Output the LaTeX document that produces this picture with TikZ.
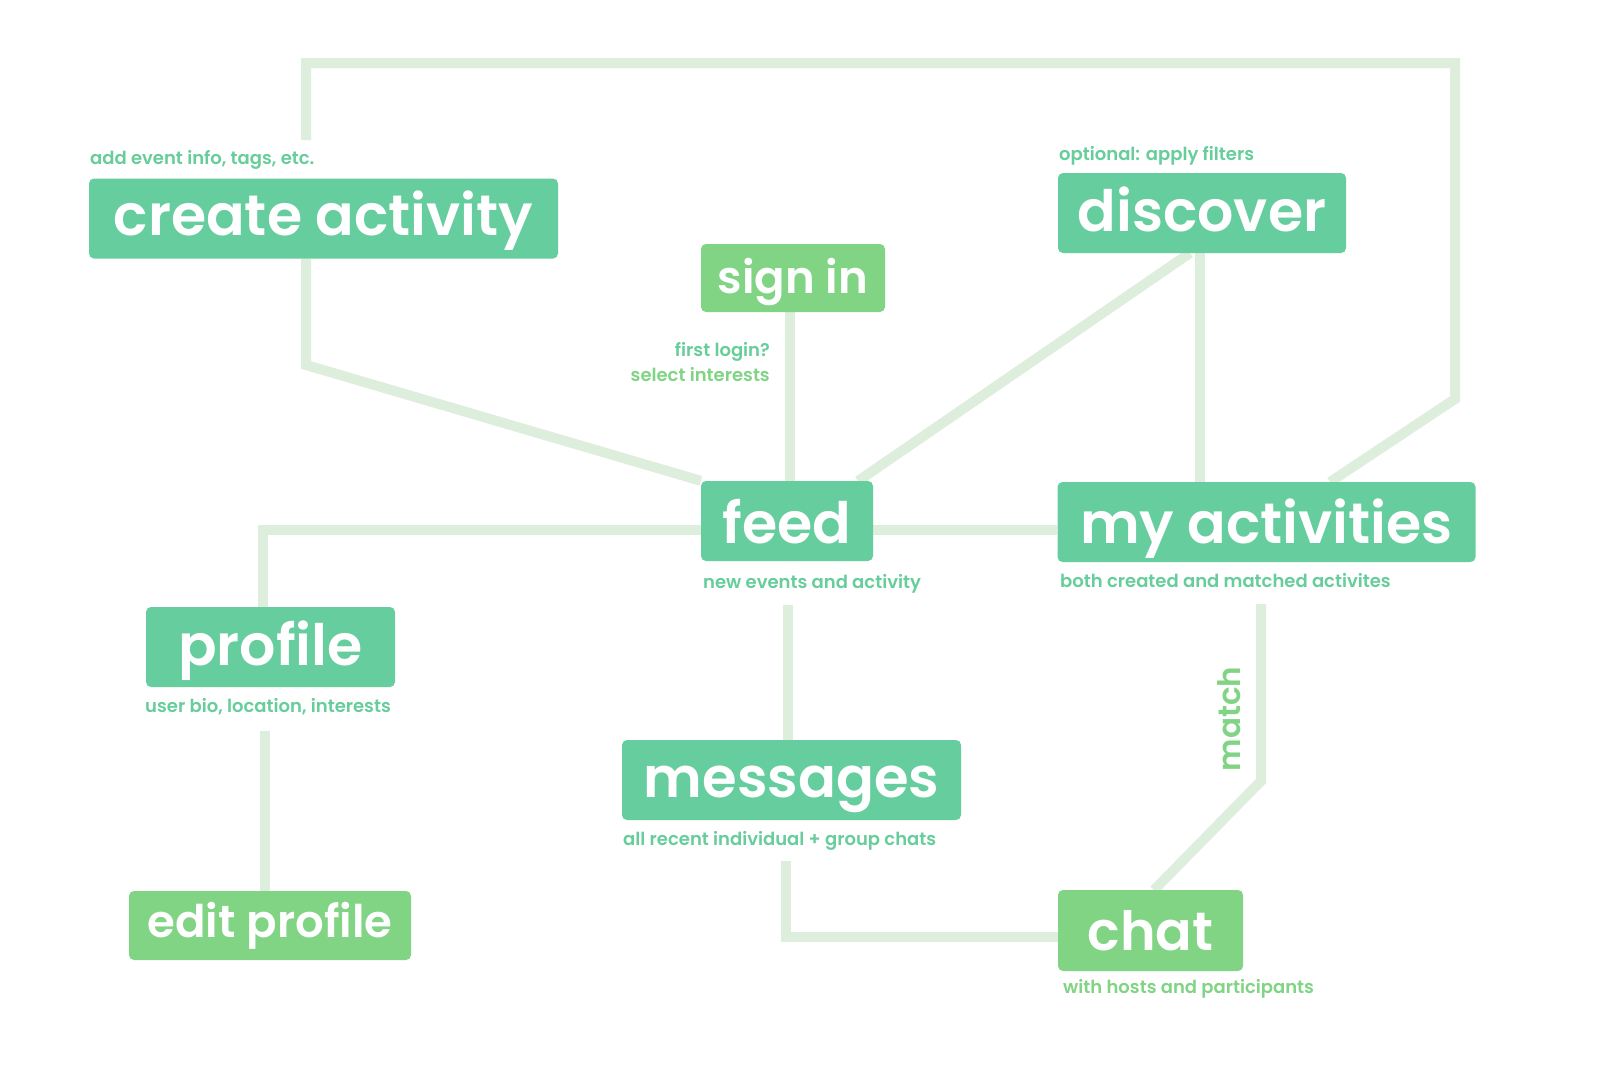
\documentclass[tikz,border=0pt]{standalone}
\usepackage{fontspec}
\setmainfont{Poppins}
\newfontfamily\capfont{Poppins}[UprightFont=* SemiBold]
\usetikzlibrary{backgrounds}
\definecolor{tealbox}{RGB}{102,205,158}
\definecolor{leafbox}{RGB}{128,212,132}
\definecolor{linkline}{RGB}{221,238,221}
\definecolor{tealtext}{RGB}{102,205,155}
\definecolor{leaftext}{RGB}{128,212,132}
\begin{document}
\begin{tikzpicture}[x=1pt,y=-1pt,
  box/.style={rectangle, rounded corners=5pt, fill=tealbox, text=white, inner sep=0pt},
  leaf/.style={box, fill=leafbox},
  big/.style={font=\capfont\fontsize{57}{60}\selectfont},
  note/.style={inner sep=0pt, text=tealtext, font=\capfont\fontsize{18}{20}\selectfont},
  leafnote/.style={note, text=leaftext},
  link/.style={draw=linkline, line width=10pt, line join=miter, line cap=butt}]
\useasboundingbox (0,0) rectangle (1601,1068);

% main screens
\node[box, big, minimum width=469pt, minimum height=80pt, text height=46.5pt, text depth=13.5pt] (create) at (323.5,218.5) {create activity};
\node[box, big, minimum width=288pt, minimum height=80pt, text height=48pt, text depth=12pt] (discover) at (1202,213) {discover};
\node[leaf, font=\capfont\fontsize{45}{50}\selectfont, minimum width=184pt, minimum height=68pt, text height=45pt, text depth=15pt] (signin) at (793,278) {sign in};
\node[box, big, minimum width=172pt, minimum height=80pt, text height=52pt, text depth=8pt] (feed) at (787,521) {feed};
\node[box, big, minimum width=418pt, minimum height=80pt, text height=51pt, text depth=9pt] (myact) at (1266.5,522) {my activities};
\node[box, big, minimum width=249pt, minimum height=80pt, text height=48pt, text depth=12pt] (profile) at (270.5,647) {profile};
\node[box, font=\capfont\fontsize{56}{60}\selectfont, minimum width=339pt, minimum height=80pt, text height=47pt, text depth=13pt] (messages) at (791.5,780) {messages};
\node[leaf, font=\capfont\fontsize{45}{48}\selectfont, minimum width=282pt, minimum height=69pt, text height=41.5pt, text depth=18.5pt] (editprofile) at (270,925.5) {edit profile};
\node[leaf, font=\capfont\fontsize{54}{58}\selectfont, minimum width=185pt, minimum height=81pt, text height=49.5pt, text depth=10.5pt] (chat) at (1150.5,930.5) {chat};

% notes under / above the screens
\node[note, anchor=base west] (capcreate) at (90,164) {add event info, tags, etc.};
\node[note, anchor=base west] (capdiscover) at (1059,160) {optional: apply filters};
\node[note, anchor=base east] (capsignin) at (770,356) {first login?};
\node[leafnote, anchor=base east] (capsignintwo) at (770,381) {select interests};
\node[note, anchor=base west] (capfeed) at (703,588) {new events and activity};
\node[note, anchor=base west] (capmyact) at (1060,587) {both created and matched activites};
\node[note, anchor=base west] (capprofile) at (145,712) {user bio, location, interests};
\node[note, anchor=base west] (capmessages) at (623,845) {all recent individual + group chats};
\node[leafnote, anchor=base west] (capchat) at (1063,993) {with hosts and participants};
\node[text=leaftext, inner sep=0pt, rotate=90, anchor=base, font=\capfont\fontsize{31}{33}\selectfont] (match) at (1240,719) {match};

% bends and free ends of the links
\coordinate (loopstart) at (306,140);
\coordinate (looptl) at (306,63);
\coordinate (looptr) at (1455,63);
\coordinate (loopbend) at (1455,399);
\coordinate (loopend) at (1330,482);
\coordinate (createbend) at (306,365);
\coordinate (discoverfoot) at (1190,253);
\coordinate (feeddiag) at (858,481);
\coordinate (profilecorner) at (263,530);
\coordinate (profiletop) at (265,731);
\coordinate (feedfoot) at (788,605);
\coordinate (msgfoot) at (786,861);
\coordinate (msgcorner) at (786,937);
\coordinate (myactfoot) at (1261,604);
\coordinate (matchbend) at (1261,781);
\coordinate (chattop) at (1154,890);

\begin{scope}[on background layer]
  \fill[white] (0,0) rectangle (1601,1068);
  \draw[link] (loopstart) -- (looptl) -- (looptr) -- (loopbend) -- (loopend);
  \draw[link] (create.south -| createbend) -- (createbend) -- (feed.north west);
  \draw[link] (signin.south -| 789.5,0) -- (feed.north -| 789.5,0);
  \draw[link] (discoverfoot) -- (feeddiag);
  \draw[link] (discover.south -| 1200,0) -- (myact.north -| 1200,0);
  \draw[link] (feed.east |- 0,530) -- (myact.west |- 0,530);
  \draw[link] (feed.west |- profilecorner) -- (profilecorner) -- (profile.north -| profilecorner);
  \draw[link] (profiletop) -- (editprofile.north -| profiletop);
  \draw[link] (feedfoot) -- (messages.north -| feedfoot);
  \draw[link] (msgfoot) -- (msgcorner) -- (chat.west |- msgcorner);
  \draw[link] (myactfoot) -- (matchbend) -- (chattop);
\end{scope}
\end{tikzpicture}
\end{document}
